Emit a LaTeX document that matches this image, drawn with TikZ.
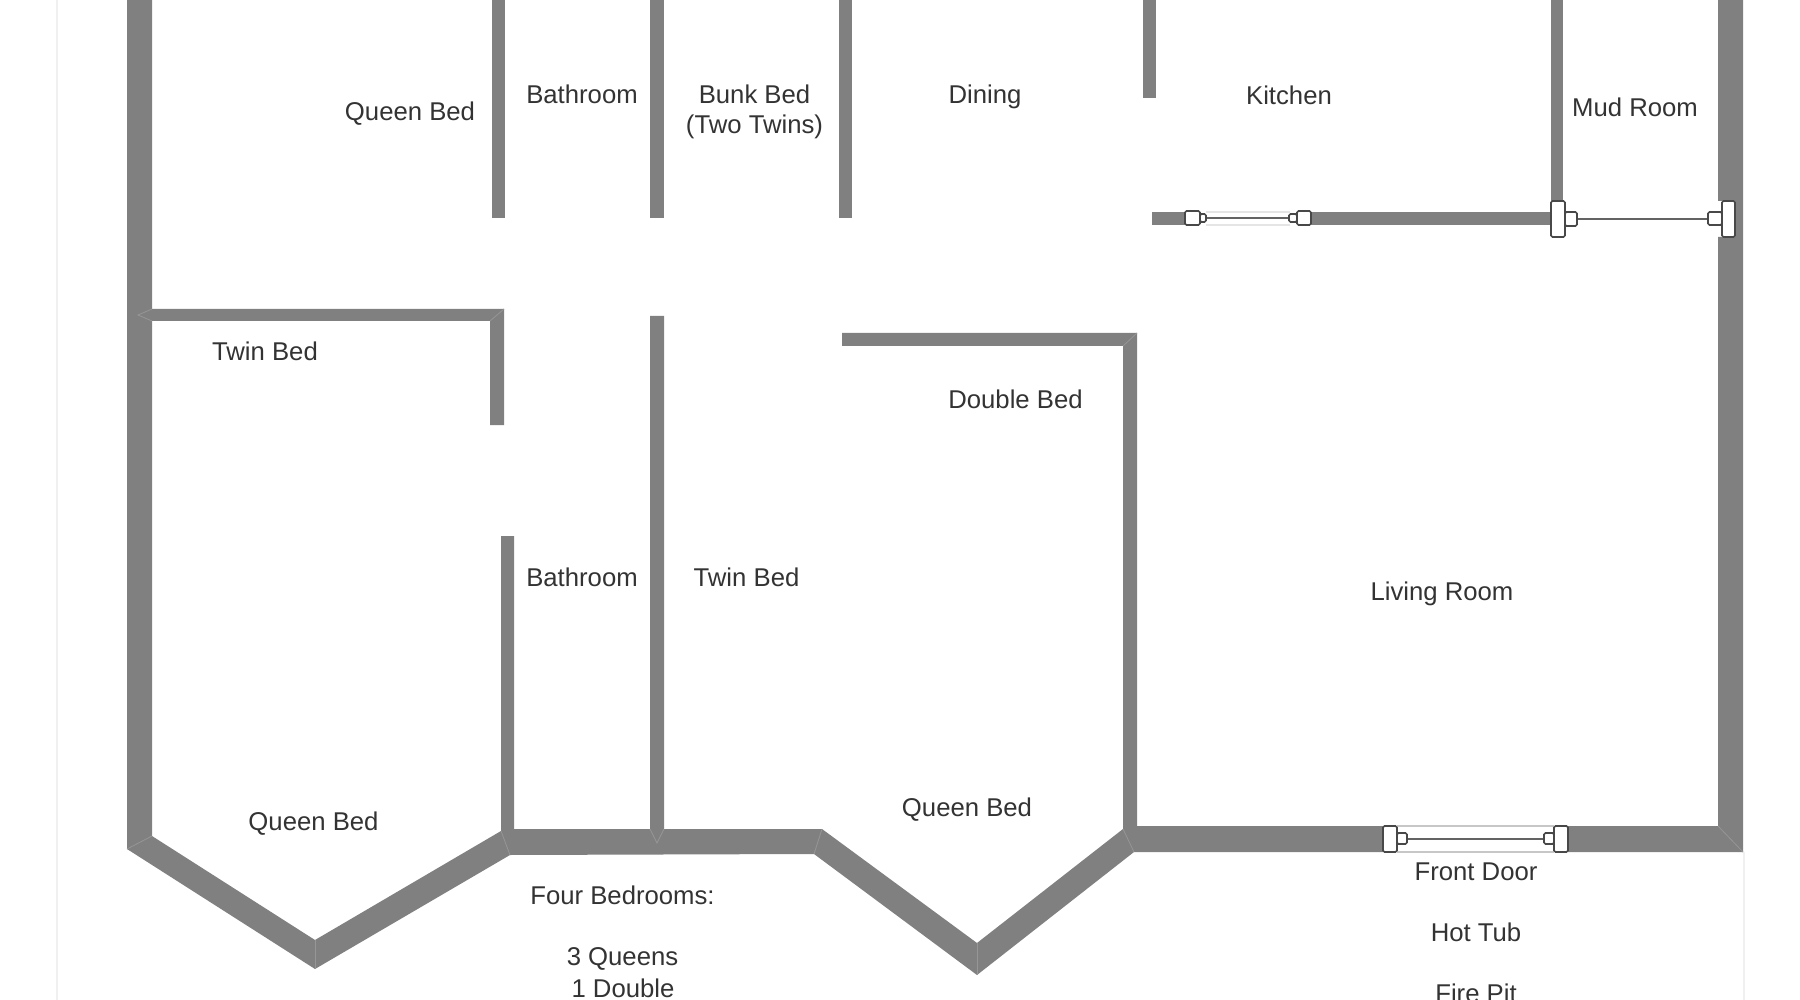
\documentclass[tikz,border=0pt]{standalone}
\usepackage{fontspec}
\setmainfont{Liberation Sans}
\definecolor{wallgrey}{HTML}{808080}
\definecolor{seamgrey}{HTML}{969696}
\definecolor{pagegrey}{HTML}{F0F0F0}
\definecolor{doorgrey}{HTML}{484848}
\definecolor{labelgrey}{HTML}{333333}
\tikzset{
	wall/.style={fill=wallgrey},
	seam/.style={draw=seamgrey,line width=0.8pt},
	edgeline/.style={draw=pagegrey,line width=1.6pt},
	glass/.style={draw=black!22,line width=1.2pt},
	glassfaint/.style={draw=black!10,line width=1.4pt},
	jamb/.style={draw=doorgrey,fill=white,line width=1.6pt,rounded corners=1.5pt},
	slide/.style={draw=doorgrey!85,line width=1.8pt},
	room/.style={text=labelgrey,align=center,inner sep=0pt,font=\fontsize{25.7}{30}\selectfont,text height=18.5pt,text depth=5.5pt},
}
\begin{document}
\begin{tikzpicture}[x=1pt,y=-1pt]
		\useasboundingbox (0,0) rectangle (1800,1000);
		\clip (0,0) rectangle (1800,1000);
		\fill[white] (0,0) rectangle (1800,1000);
		% page edges
		\draw[edgeline] (57,0) -- (57,1000);
		\draw[edgeline] (1744,852) -- (1744,1000);
		% outer walls
		\fill[wall] (127,0) -- (152,0) -- (152,836) -- (315,940) -- (501,831) -- (501,536) -- (514,536) -- (514,829) -- (650,829) -- (650,316) -- (664,316) -- (664,829) -- (822,829) -- (977,943) -- (1123,829) -- (1123,346) -- (842,346) -- (842,333) -- (1137,333) -- (1137,826) -- (1383,826) -- (1383,852) -- (1134,852) -- (977,975) -- (814,854) -- (510,855) -- (315,969) -- (127,849) -- cycle;
		\fill[wall] (1568,826) -- (1718,826) -- (1718,237) -- (1735,237) -- (1735,201) -- (1718,201) -- (1718,0) -- (1743,0) -- (1743,852) -- (1568,852) -- cycle;
		% inner walls
		\fill[wall] (492,0) rectangle (505,218);
		\fill[wall] (650,0) rectangle (664,218);
		\fill[wall] (839,0) rectangle (852,218);
		\fill[wall] (1143,0) rectangle (1156,98);
		\fill[wall] (1551,0) rectangle (1563,201);
		\fill[wall] (152,309) -- (504,309) -- (504,425) -- (490,425) -- (490,321) -- (152,321) -- cycle;
		\fill[wall] (1152,212) rectangle (1185,225);
		\fill[wall] (1311,212) rectangle (1551,225);
		% mitre seams
		\draw[seam] (127,849) -- (152,836);
		\draw[seam] (315,940) -- (315,969);
		\draw[seam] (501,831) -- (510,855);
		\draw[seam] (822,829) -- (814,854);
		\draw[seam] (977,943) -- (977,975);
		\draw[seam] (1123,829) -- (1134,852);
		\draw[seam] (1718,826) -- (1743,852);
		\draw[seam] (490,321) -- (504,309);
		\draw[seam] (1123,346) -- (1137,333);
		\draw[seam] (650,829) -- (657,843) -- (664,829);
		\draw[seam] (152,309) -- (138,315) -- (152,321);
		% kitchen window
		\draw[glassfaint] (1206,212) -- (1290,212);
		\draw[glassfaint] (1206,225) -- (1290,225);
		\draw[slide] (1206,218) -- (1290,218);
		\draw[jamb] (1185,211) rectangle (1200,225);
		\draw[jamb] (1200,214) rectangle (1206,222);
		\draw[jamb] (1289,214) rectangle (1297,222);
		\draw[jamb] (1297,211) rectangle (1311,225);
		% mud room door
		\draw[slide] (1577,219) -- (1708,219);
		\draw[jamb] (1551,201) rectangle (1565,237);
		\draw[jamb] (1565,212) rectangle (1577,226);
		\draw[jamb] (1708,212) rectangle (1722,225);
		\draw[jamb] (1722,201) rectangle (1735,237);
		% front door
		\draw[glass] (1397,826) -- (1554,826);
		\draw[glass] (1397,852) -- (1554,852);
		\draw[slide] (1407,839) -- (1544,839);
		\draw[jamb] (1383,826) rectangle (1397,852);
		\draw[jamb] (1397,833) rectangle (1407,844);
		\draw[jamb] (1544,833) rectangle (1554,844);
		\draw[jamb] (1554,826) rectangle (1568,852);
		% rooms
		\node (queentop) [room] at (410,114.5) {Queen Bed};
		\node (bathtop) [room] at (582,97.5) {Bathroom};
		\node (bunk) [room] at (754.5,127.5) {Bunk Bed\\(Two Twins)};
		\node (dining) [room] at (985,97.5) {Dining};
		\node (kitchen) [room] at (1289,98.5) {Kitchen};
		\node (mudroom) [room] at (1635,110) {Mud Room};
		\node (twinleft) [room] at (265,354) {Twin Bed};
		\node (double) [room] at (1015.5,402.5) {Double Bed};
		\node (bathlow) [room] at (582,579.5) {Bathroom};
		\node (twinmid) [room] at (746.5,579.5) {Twin Bed};
		\node (living) [room] at (1442,593.5) {Living Room};
		\node (queenleft) [room] at (313.5,823.5) {Queen Bed};
		\node (queenmid) [room] at (967,809.5) {Queen Bed};
		\node (frontdoor) [room] at (1476,873.5) {Front Door};
		\node (hottub) [room] at (1476,934.5) {Hot Tub};
		\node (firepit) [room] at (1476,996) {Fire Pit};
		\node (bedrooms) [room] at (622.5,898) {Four Bedrooms:};
		\node (queens) [room] at (622.5,958.5) {3 Queens};
		\node (onedouble) [room] at (623,990.5) {1 Double};
	\end{tikzpicture}
\end{document}
